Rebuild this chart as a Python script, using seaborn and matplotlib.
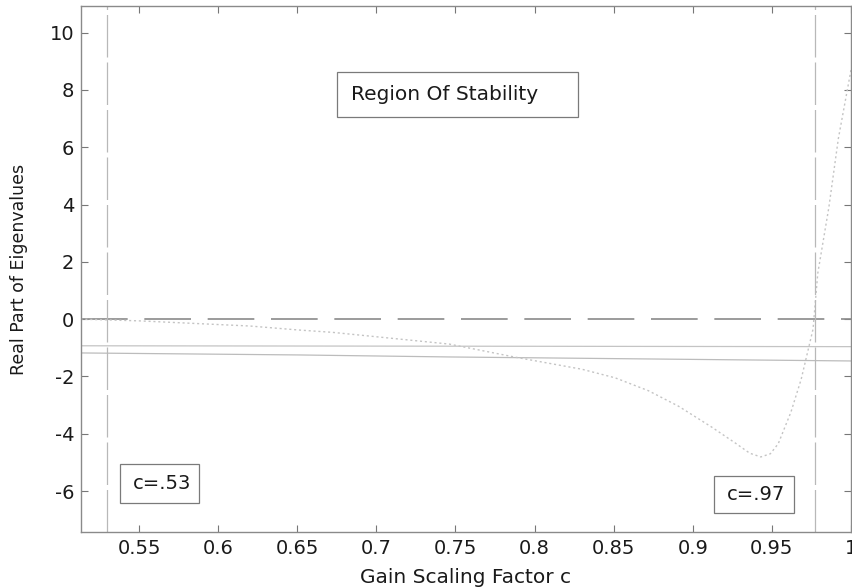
import numpy as np
import pandas as pd
import matplotlib
matplotlib.use("Agg")
import matplotlib.pyplot as plt
import matplotlib.patches as mpatches
import seaborn as sns

# ---- data ----
c_curve = [0.513, 0.55, 0.62, 0.651, 0.672, 0.746, 0.788, 0.83, 0.851, 0.872,
           0.891, 0.912, 0.927, 0.936, 0.943, 0.949, 0.954, 0.962, 0.9685,
           0.976, 0.979, 0.986, 0.992, 1.0]
re_curve = [0.0, -0.06, -0.24, -0.38, -0.46, -0.87, -1.33, -1.75, -2.05, -2.5,
            -3.04, -3.77, -4.33, -4.68, -4.81, -4.7, -4.35, -3.25, -2.1,
            -0.35, 1.6, 3.9, 6.3, 8.7]
c_flat = [0.513, 1.0]
re_zero = [0.0, 0.0]
re_flat = [-0.93, -0.96]
c_slope = [0.513, 0.651, 0.746, 0.872, 1.0]
re_slope = [-1.18, -1.25, -1.32, -1.39, -1.46]
c_bounds = [0.53, 0.977]
bound_labels = ["c=.53", "c=.97"]
region_label = "Region Of Stability"
x_ticks = [0.55, 0.6, 0.65, 0.7, 0.75, 0.8, 0.85, 0.9, 0.95, 1.0]
x_tick_labels = ["0.55", "0.6", "0.65", "0.7", "0.75", "0.8", "0.85", "0.9", "0.95", "1"]
y_ticks = [-6, -4, -2, 0, 2, 4, 6, 8, 10]
y_tick_labels = ["-6", "-4", "-2", "0", "2", "4", "6", "8", "10"]

sns.set_style("ticks")
plt.rcParams["font.family"] = ["DejaVu Sans"]

fig = plt.figure(figsize=(8.53, 5.88), dpi=100)
ax = fig.add_axes([81 / 853, 1 - 532 / 588, 770 / 853, 526 / 588])

df_curve = pd.DataFrame({"c": c_curve, "re": re_curve})
df_zero = pd.DataFrame({"c": c_flat, "re": re_zero})
df_flat = pd.DataFrame({"c": c_flat, "re": re_flat})
df_slope = pd.DataFrame({"c": c_slope, "re": re_slope})

sns.lineplot(data=df_zero, x="c", y="re", ax=ax, color="#8a8a8a", lw=1.2,
             dashes=False, sort=False)
ax.lines[-1].set_dashes((28, 10))
sns.lineplot(data=df_flat, x="c", y="re", ax=ax, color="#c4c4c4", lw=0.9, sort=False)
sns.lineplot(data=df_slope, x="c", y="re", ax=ax, color="#bcbcbc", lw=0.9, sort=False)
sns.lineplot(data=df_curve, x="c", y="re", ax=ax, color="#c4c4c4", lw=1.0, sort=False)
ax.lines[-1].set_linestyle((0, (1.5, 2)))

for cb in c_bounds:
    ax.axvline(cb, color="#b8b8b8", lw=0.9, dashes=(34, 4))

ax.set_xlim(0.5133, 1.0)
ax.set_ylim(-7.43, 10.93)
ax.set_xticks(x_ticks)
ax.set_xticklabels(x_tick_labels)
ax.set_yticks(y_ticks)
ax.set_yticklabels(y_tick_labels)

ax.tick_params(direction="in", length=5, width=0.8, color="#777777",
               labelsize=14, top=True, right=True, pad=5, labelcolor="#1a1a1a")
for s in ax.spines.values():
    s.set_visible(True)
    s.set_color("#8a8a8a")
    s.set_linewidth(1.0)

ax.set_xlabel("Gain Scaling Factor c", fontsize=14.5, color="#1a1a1a")
ax.set_ylabel("Real Part of Eigenvalues", fontsize=12.5, color="#1a1a1a")
ax.xaxis.set_label_coords(0.5, -0.068)
ax.yaxis.set_label_coords(-0.069, 0.5)

# annotation boxes
boxes = [
    (0.6753, 7.06, 0.8273 - 0.6753, 8.63 - 7.06, region_label, 0.6841, 7.84, "left", 14.5),
    (0.5379, -6.42, 0.5877 - 0.5379, 6.42 - 5.06, bound_labels[0], 0.5646, -5.74, "center", 14),
    (0.9136, -6.77, 0.9641 - 0.9136, 6.77 - 5.48, bound_labels[1], 0.9400, -6.12, "center", 14),
]
for x0, y0, w, h, txt, tx, ty, ha, fs in boxes:
    ax.add_patch(mpatches.Rectangle((x0, y0), w, h, fill=True, fc="white",
                                    ec="#7a7a7a", lw=0.9, zorder=5))
    ax.text(tx, ty, txt, ha=ha, va="center", fontsize=fs, color="#1a1a1a", zorder=6)

fig.savefig("out.png", dpi=100)
